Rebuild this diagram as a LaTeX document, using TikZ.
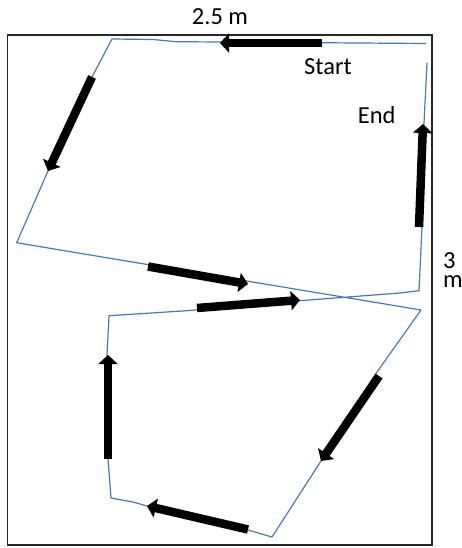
\documentclass[tikz,border=0pt]{standalone}
\usepackage{fontspec}
\setmainfont{Carlito}
\usetikzlibrary{arrows.meta}
\definecolor{pathblue}{RGB}{74,122,178}
\tikzset{
  trail/.style={draw=pathblue, line width=1.2pt, line join=round},
  bigarrow/.style={draw=black, line width=8.5pt, -{Triangle[width=19pt,length=9pt]}},
  lbl/.style={font=\fontsize{24.5}{26}\selectfont, inner sep=0pt}
}
\begin{document}
\begin{tikzpicture}[x=1pt,y=-1pt]
\useasboundingbox (0,0) rectangle (462,548);
\draw[line width=1.5pt, draw=black!85] (7.5,35) rectangle (432,545);
% path points
\coordinate (p0) at (426,43.5);
\coordinate (p1) at (220,42);
\coordinate (p2) at (176,41.7);
\coordinate (p3) at (153,39.5);
\coordinate (p4) at (112,39);
\coordinate (p5) at (92,77);
\coordinate (p6) at (48,171);
\coordinate (p7) at (16.7,242.7);
\coordinate (p8) at (50,248.3);
\coordinate (p9) at (421,310);
\coordinate (p10) at (377,372);
\coordinate (p11) at (321,461);
\coordinate (p12) at (272,537);
\coordinate (p13) at (248,530);
\coordinate (p14) at (147,506);
\coordinate (p15) at (133,502);
\coordinate (p16) at (111,498);
\coordinate (p17) at (108,459);
\coordinate (p18) at (107,355);
\coordinate (p19) at (109,315.7);
\coordinate (p20) at (187,310.7);
\coordinate (p21) at (300,300.7);
\coordinate (p22) at (400,293);
\coordinate (p23) at (419,290.7);
\coordinate (p24) at (422,227);
\coordinate (p25) at (424,123);
\coordinate (p26) at (427,62.7);
\draw[trail] (p0) -- (p1) -- (p2) -- (p3) -- (p4) -- (p5) -- (p6) -- (p7) -- (p8)
  -- (p9) -- (p10) -- (p11) -- (p12) -- (p13) -- (p14) -- (p15) -- (p16) -- (p17)
  -- (p18) -- (p19) -- (p20) -- (p21) -- (p22) -- (p23) -- (p24) -- (p25) -- (p26);
% arrows
\coordinate (a1s) at (322,43); \coordinate (a1e) at (220,43);
\coordinate (a2s) at (92,77); \coordinate (a2e) at (48,171);
\coordinate (a3s) at (148,266.5); \coordinate (a3e) at (248,284);
\coordinate (a4s) at (197,308); \coordinate (a4e) at (300,300);
\coordinate (a5s) at (379,376); \coordinate (a5e) at (321,461);
\coordinate (a6s) at (248,529.5); \coordinate (a6e) at (147,506);
\coordinate (a7s) at (108,459); \coordinate (a7e) at (108,355);
\coordinate (a8s) at (419,227); \coordinate (a8e) at (423,124);
\draw[bigarrow] (a1s) -- (a1e);
\draw[bigarrow] (a2s) -- (a2e);
\draw[bigarrow] (a3s) -- (a3e);
\draw[bigarrow] (a4s) -- (a4e);
\draw[bigarrow] (a5s) -- (a5e);
\draw[bigarrow] (a6s) -- (a6e);
\draw[bigarrow] (a7s) -- (a7e);
\draw[bigarrow] (a8s) -- (a8e);
% labels
\node[lbl] (width) at (220,17) {2.5 m};
\node[lbl] (start) at (328,67) {Start};
\node[lbl] (end) at (376.7,115) {End};
\node[lbl, anchor=base west] (three) at (443,268) {3};
\node[lbl, anchor=base west] (metre) at (443,287) {m};
\end{tikzpicture}
\end{document}
